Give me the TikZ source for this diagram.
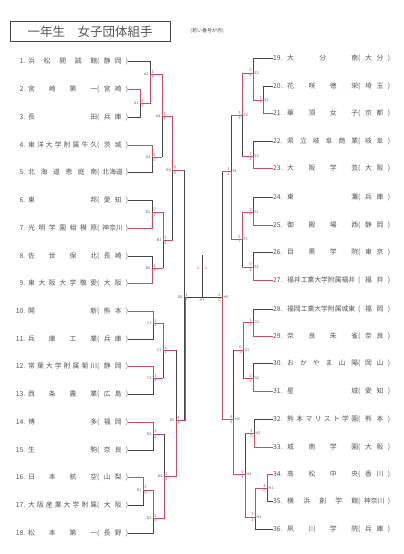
\documentclass[tikz,border=0pt]{standalone}
\usepackage{fontspec}
\setmainfont{Noto Sans CJK JP}
\definecolor{ink}{RGB}{85,85,85}
\definecolor{lne}{RGB}{70,70,70}
\definecolor{redm}{RGB}{200,78,104}
\newcommand{\HF}{\hfill}
\tikzset{
 lt/.style={anchor=west,inner sep=0pt,text=ink,font=\fontsize{6.8}{7}\selectfont},
 br/.style={draw=lne,line width=0.6pt},
 win/.style={draw=redm,line width=0.9pt,line join=miter},
 lbl/.style={font=\fontsize{3.6}{4}\selectfont,text=ink,inner sep=0.3pt},
 mk/.style={font=\fontsize{4.2}{4.5}\selectfont,text=redm,inner sep=0.2pt},
}
\newcommand{\LT}[5]{\node[lt] (#1) at (14,#2) {\makebox[11pt][r]{#3.}\hspace{3pt}\makebox[69pt][s]{#4}\makebox[31pt][s]{(\HF #5\HF)}};}
\newcommand{\RT}[5]{\node[lt] (#1) at (273,#2) {\makebox[14pt][l]{#3.}\makebox[71pt][s]{#4}\makebox[32pt][s]{(\HF #5\HF)}};}
\newcommand{\ML}[5]{\node[lbl,anchor=east] (#1) at (#2-1.2,#3) {#1};
 \node[mk,anchor=south west] at (#2+1,#3-0.6) {#4};
 \node[mk,anchor=north west] at (#2+1,#3+0.6) {#5};}
\newcommand{\MR}[5]{\node[lbl,anchor=west] (#1) at (#2+1.2,#3) {#1};
 \node[mk,anchor=south east] at (#2-1,#3-0.6) {#4};
 \node[mk,anchor=north east] at (#2-1,#3+0.6) {#5};}
\begin{document}
\begin{tikzpicture}[x=1pt,y=-1pt]
\useasboundingbox[fill=white] (0,0) rectangle (404,554);
% title
\draw[line width=0.8pt,draw=lne] (10,21) rectangle (170,41);
\node[font=\fontsize{12.5}{13}\selectfont,text=ink] (title) at (90,31.5) {一年生　女子団体組手};
\node[font=\fontsize{5}{5}\selectfont,text=ink] (note) at (207,31) {(若い番号が赤)};
% left teams
\LT{t1}{61}{1}{浜\HF 松\HF 開\HF 誠\HF 館}{静\HF 岡}
\LT{t2}{89}{2}{宮\HF 崎\HF 第\HF 一}{宮\HF 崎}
\LT{t3}{117}{3}{長\HF 田}{兵\HF 庫}
\LT{t4}{145}{4}{東\HF 洋\HF 大\HF 学\HF 附\HF 属\HF 牛\HF 久}{茨\HF 城}
\LT{t5}{172}{5}{北\HF 海\HF 道\HF 恵\HF 庭\HF 南}{北海道}
\LT{t6}{200}{6}{東\HF 邦}{愛\HF 知}
\LT{t7}{228}{7}{光\HF 明\HF 学\HF 園\HF 相\HF 模\HF 原}{神奈川}
\LT{t8}{256}{8}{佐\HF 世\HF 保\HF 北}{長\HF 崎}
\LT{t9}{283}{9}{東\HF 大\HF 阪\HF 大\HF 学\HF 敬\HF 愛}{大\HF 阪}
\LT{t10}{311}{10}{開\HF 新}{熊\HF 本}
\LT{t11}{339}{11}{兵\HF 庫\HF 工\HF 業}{兵\HF 庫}
\LT{t12}{366}{12}{常\HF 葉\HF 大\HF 学\HF 附\HF 属\HF 菊\HF 川}{静\HF 岡}
\LT{t13}{394}{13}{西\HF 条\HF 農\HF 業}{広\HF 島}
\LT{t14}{422}{14}{博\HF 多}{福\HF 岡}
\LT{t15}{450}{15}{生\HF 駒}{奈\HF 良}
\LT{t16}{477}{16}{日\HF 本\HF 航\HF 空}{山\HF 梨}
\LT{t17}{505}{17}{大\HF 阪\HF 産\HF 業\HF 大\HF 学\HF 附\HF 属}{大\HF 阪}
\LT{t18}{533}{18}{松\HF 本\HF 第\HF 一}{長\HF 野}
% right teams
\RT{t19}{58}{19}{大\HF 分\HF 南}{大\HF 分}
\RT{t20}{86}{20}{花\HF 咲\HF 徳\HF 栄}{埼\HF 玉}
\RT{t21}{113}{21}{華\HF 頂\HF 女\HF 子}{京\HF 都}
\RT{t22}{141}{22}{県\HF 立\HF 岐\HF 阜\HF 商\HF 業}{岐\HF 阜}
\RT{t23}{168}{23}{大\HF 阪\HF 学\HF 芸}{大\HF 阪}
\RT{t24}{197}{24}{東\HF 灘}{兵\HF 庫}
\RT{t25}{225}{25}{御\HF 殿\HF 場\HF 西}{静\HF 岡}
\RT{t26}{252}{26}{目\HF 黒\HF 学\HF 院}{東\HF 京}
\RT{t27}{280}{27}{福井工業大学附属福井}{福\HF 井}
\RT{t28}{309}{28}{福岡工業大学附属城東}{福\HF 岡}
\RT{t29}{336}{29}{奈\HF 良\HF 朱\HF 雀}{奈\HF 良}
\RT{t30}{363}{30}{お\HF か\HF や\HF ま\HF 山\HF 陽}{岡\HF 山}
\RT{t31}{391}{31}{星\HF 城}{愛\HF 知}
\RT{t32}{419}{32}{熊\HF 本\HF マ\HF リ\HF ス\HF ト\HF 学\HF 園}{熊\HF 本}
\RT{t33}{447}{33}{城\HF 南\HF 学\HF 園}{大\HF 阪}
\RT{t34}{474}{34}{高\HF 松\HF 中\HF 央}{香\HF 川}
\RT{t35}{501}{35}{横\HF 浜\HF 創\HF 学\HF 館}{神奈川}
\RT{t36}{529}{36}{夙\HF 川\HF 学\HF 院}{兵\HF 庫}
% ---------- left bracket (gray) ----------
\draw[br] (t2.east) -| (140,117) -- (t3.east);  \draw[br] (140,103) -- (150,103);
\draw[br] (t1.east) -| (150,103);               \draw[br] (150,74) -- (162,74);
\draw[br] (t4.east) -| (152,172) -- (t5.east);  \draw[br] (152,157) -- (162,157);
\draw[br] (162,74) -- (162,157);                \draw[br] (162,116) -- (172.5,116);
\draw[br] (t6.east) -| (152,228) -- (t7.east);  \draw[br] (152,212) -- (163,212);
\draw[br] (t8.east) -| (152,283) -- (t9.east);  \draw[br] (152,268) -- (163,268);
\draw[br] (163,212) -- (163,268);               \draw[br] (163,240) -- (172.5,240);
\draw[br] (172.5,116) -- (172.5,240);           \draw[br] (172.5,170) -- (184,170);
\draw[br] (t10.east) -| (153,339) -- (t11.east); \draw[br] (153,323) -- (163,323);
\draw[br] (t12.east) -| (153,394) -- (t13.east); \draw[br] (153,378) -- (163,378);
\draw[br] (163,323) -- (163,378);               \draw[br] (163,350) -- (176,350);
\draw[br] (t14.east) -| (153,450) -- (t15.east); \draw[br] (153,434) -- (164,434);
\draw[br] (t16.east) -| (143,505) -- (t17.east); \draw[br] (143,490) -- (153,490);
\draw[br] (153,490) |- (t18.east);              \draw[br] (153,518) -- (164,518);
\draw[br] (164,434) -- (164,518);               \draw[br] (164,476) -- (176,476);
\draw[br] (176,350) -- (176,476);               \draw[br] (176,420) -- (184,420);
\draw[br] (184,170) -- (184,420);
\draw[br] (184,297) -- (222,297);  \draw[br] (202,297) -- (202,255);
% ---------- right bracket (gray) ----------
\draw[br] (t20.west) -| (263,113) -- (t21.west); \draw[br] (263,100) -- (253,100);
\draw[br] (t19.west) -| (253,100);               \draw[br] (253,73) -- (242,73);
\draw[br] (t22.west) -| (253,168) -- (t23.west); \draw[br] (253,156) -- (242,156);
\draw[br] (242,73) -- (242,156);                 \draw[br] (242,115) -- (231,115);
\draw[br] (t24.west) -| (253,225) -- (t25.west); \draw[br] (253,212) -- (242,212);
\draw[br] (t26.west) -| (253,280) -- (t27.west); \draw[br] (253,267) -- (242,267);
\draw[br] (242,212) -- (242,267);                \draw[br] (242,239) -- (231,239);
\draw[br] (231,115) -- (231,239);                \draw[br] (231,171) -- (222,171);
\draw[br] (t28.west) -| (253,336) -- (t29.west); \draw[br] (253,322) -- (243,322);
\draw[br] (t30.west) -| (253,391) -- (t31.west); \draw[br] (253,378) -- (243,378);
\draw[br] (243,322) -- (243,378);                \draw[br] (243,350) -- (233.5,350);
\draw[br] (t32.west) -| (254,447) -- (t33.west); \draw[br] (254,433) -- (245,433);
\draw[br] (t34.west) -| (267,501) -- (t35.west); \draw[br] (267,488) -- (255,488);
\draw[br] (255,488) |- (t36.west);               \draw[br] (255,517) -- (245,517);
\draw[br] (245,433) -- (245,517);                \draw[br] (245,474) -- (233.5,474);
\draw[br] (233.5,350) -- (233.5,474);            \draw[br] (233.5,419) -- (222,419);
\draw[br] (222,171) -- (222,419);
% ---------- red winner paths ----------
\draw[win] (t2.east) -- (140,89) -- (140,103) -- (150,103) -- (150,74) -- (162,74) -- (162,116) -- (172.5,116) -- (172.5,170) -- (184,170);
\draw[win] (t4.east) -- (152,145) -- (152,157) -- (162,157);
\draw[win] (t7.east) -- (152,228) -- (152,212) -- (163,212) -- (163,240) -- (172.5,240);
\draw[win] (t9.east) -- (152,283) -- (152,268) -- (163,268);
\draw[win] (t10.east) -- (153,311) -- (153,323) -- (163,323) -- (163,350) -- (176,350);
\draw[win] (t12.east) -- (153,366) -- (153,378) -- (163,378);
\draw[win] (t14.east) -- (153,422) -- (153,434) -- (164,434);
\draw[win] (t16.east) -- (143,477) -- (143,490) -- (153,490) -- (153,518) -- (164,518) -- (164,476) -- (176,476) -- (176,420) -- (185,420) -- (185,297);
\draw[win] (t21.west) -- (263,113) -- (263,100) -- (253,100) -- (253,73) -- (242,73) -- (242,115) -- (231,115);
\draw[win] (t23.west) -- (253,168) -- (253,156) -- (242,156);
\draw[win] (t25.west) -- (253,225) -- (253,212) -- (242,212) -- (242,239) -- (231,239) -- (231,171) -- (222,171);
\draw[win] (t27.west) -- (253,280) -- (253,267) -- (242,267);
\draw[win] (t29.west) -- (253,336) -- (253,322) -- (243,322) -- (243,350) -- (233.5,350);
\draw[win] (t31.west) -- (253,391) -- (253,378) -- (243,378);
\draw[win] (t33.west) -- (254,447) -- (254,433) -- (245,433);
\draw[win] (t34.west) -- (267,474) -- (267,488) -- (255,488) -- (255,517) -- (245,517) -- (245,474) -- (233.5,474) -- (233.5,419) -- (222.5,419) -- (222.5,297);
% ---------- match labels and scores ----------
\ML{A1}{140}{103}{2}{0}
\ML{A2}{150}{74}{1}{3}
\ML{A3}{152}{157}{2}{0}
\ML{A4}{162}{116}{1}{3}
\ML{B1}{152}{212}{0}{2}
\ML{B2}{152}{268}{1}{4}
\ML{B3}{163}{240}{1}{2}
\ML{B4}{172.5}{170}{3}{0}
\ML{C1}{153}{323}{2}{1}
\ML{C2}{153}{378}{1}{4}
\ML{C3}{163}{350}{2}{1}
\ML{D3}{153}{434}{3}{2}
\ML{D1}{143}{490}{3}{0}
\ML{D2}{153}{518}{1}{0}
\ML{D4}{164}{476}{1}{2}
\ML{D5}{176}{420}{4}{3}
\ML{D6}{184}{297}{1}{5}
\MR{E1}{263}{100}{1}{1}
\MR{E2}{253}{73}{0}{4}
\MR{E3}{253}{156}{1}{3}
\MR{E4}{242}{115}{1}{3}
\MR{F1}{253}{212}{1}{4}
\MR{F2}{253}{267}{0}{2}
\MR{F3}{242}{239}{2}{7}
\MR{F4}{231}{171}{1}{2}
\MR{G1}{253}{322}{1}{3}
\MR{G2}{253}{378}{2}{3}
\MR{G3}{243}{350}{0}{1}
\MR{H1}{267}{488}{4}{0}
\MR{H2}{254}{433}{4}{5}
\MR{H3}{255}{517}{3}{1}
\MR{H4}{245}{474}{1}{3}
\MR{H5}{233.5}{419}{4}{3}
\MR{H6}{222}{297}{2}{0}
\node[lbl,anchor=north] (H7) at (202,298.5) {H7};
\node[mk] at (198,268) {1};
\node[mk] at (206,268) {1};
\end{tikzpicture}
\end{document}
